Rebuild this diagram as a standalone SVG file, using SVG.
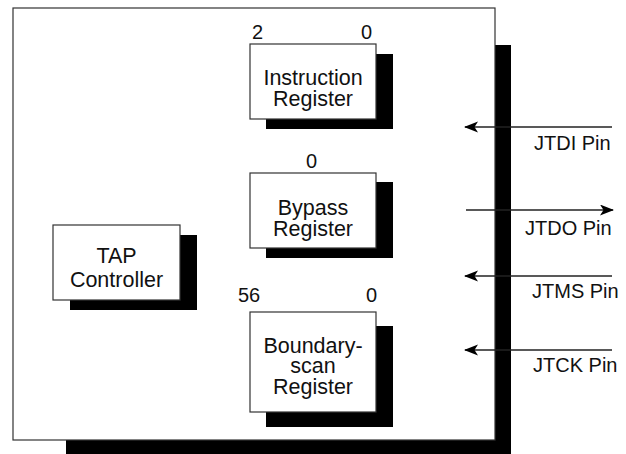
<svg xmlns="http://www.w3.org/2000/svg" width="626" height="454" viewBox="0 0 626 454">
<style>
text{font-family:"Liberation Sans",Arial,sans-serif;font-size:20px;fill:#111}
.lbl{text-anchor:middle;font-size:21.5px}
.box{fill:#fff;stroke:#333;stroke-width:1.2}
.sh{fill:#000}
.wire{stroke:#222;stroke-width:1.5;fill:none}
</style>
<defs>
<marker id="ah" markerUnits="userSpaceOnUse" markerWidth="16" markerHeight="12" refX="13" refY="5.5" orient="auto">
<path d="M0,0 L14,5.5 L0,11 L3.5,5.5 Z" fill="#000"/>
</marker>
</defs>
<rect width="626" height="454" fill="#fff"/>
<g id="chip">
<rect class="sh" x="66" y="45" width="445" height="409"/>
<rect class="box" x="13" y="8" width="482" height="432"/>
</g>
<g id="instruction-register">
<rect class="sh" x="266" y="54" width="127" height="75"/>
<rect class="box" x="250" y="44" width="126" height="75"/>
<text class="lbl" x="313" y="85">Instruction</text>
<text class="lbl" x="313" y="106">Register</text>
<text x="252" y="39">2</text>
<text x="361" y="39">0</text>
</g>
<g id="bypass-register">
<rect class="sh" x="266" y="182" width="127" height="76"/>
<rect class="box" x="250" y="173" width="126" height="75"/>
<text class="lbl" x="313" y="215">Bypass</text>
<text class="lbl" x="313" y="236">Register</text>
<text x="306" y="168">0</text>
</g>
<g id="tap-controller">
<rect class="sh" x="70" y="235" width="127" height="75"/>
<rect class="box" x="53" y="225" width="127" height="75"/>
<text class="lbl" x="116.5" y="263">TAP</text>
<text class="lbl" x="116.5" y="287">Controller</text>
</g>
<g id="boundary-scan-register">
<rect class="sh" x="266" y="326" width="127" height="101"/>
<rect class="box" x="250" y="312" width="126" height="100"/>
<text class="lbl" x="313" y="353">Boundary-</text>
<text class="lbl" x="313" y="373">scan</text>
<text class="lbl" x="313" y="394">Register</text>
<text x="238" y="302">56</text>
<text x="366" y="302">0</text>
</g>
<g id="connectors">
<line class="wire" x1="612" y1="127" x2="465" y2="127" marker-end="url(#ah)"/>
<line class="wire" x1="466" y1="210" x2="613" y2="210" marker-end="url(#ah)"/>
<line class="wire" x1="612" y1="276" x2="465" y2="276" marker-end="url(#ah)"/>
<line class="wire" x1="612" y1="350" x2="465" y2="350" marker-end="url(#ah)"/>
</g>
<g id="pin-labels">
<text x="534" y="150">JTDI Pin</text>
<text x="525" y="235">JTDO Pin</text>
<text x="532" y="298">JTMS Pin</text>
<text x="533" y="372">JTCK Pin</text>
</g>
</svg>
